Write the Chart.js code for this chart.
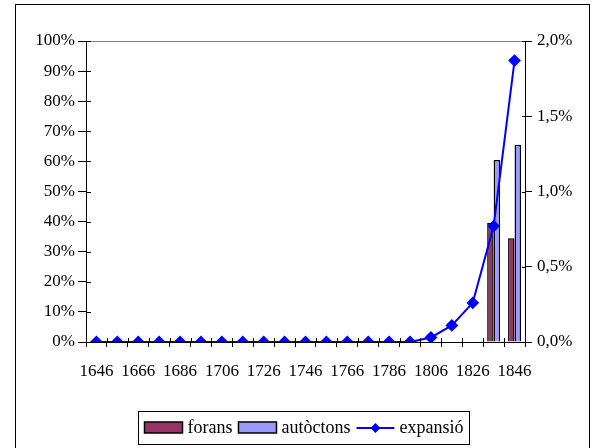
<!DOCTYPE html>
<html>
<head>
<meta charset="utf-8">
<script src="https://cdn.jsdelivr.net/npm/chart.js@4/dist/chart.umd.min.js"></script>
<style>
  html, body { margin: 0; padding: 0; background: #fff; }
  canvas { display: block; }
</style>
</head>
<body>
<canvas id="chart" width="597" height="448"></canvas>
<script>
  // Data
  const years = ["1646", "1656", "1666", "1676", "1686", "1696", "1706", "1716", "1726", "1736", "1746",
                 "1756", "1766", "1776", "1786", "1796", "1806", "1816", "1826", "1836", "1846"];
  const forans = [null, null, null, null, null, null, null, null, null, null, null,
                  null, null, null, null, null, null, null, null, 39.5, 34.5];
  const autoctons = [null, null, null, null, null, null, null, null, null, null, null,
                     null, null, null, null, null, null, null, null, 60.5, 65.5];
  const expansio = [0, 0, 0, 0, 0, 0, 0, 0, 0, 0, 0,
                    0, 0, 0, 0, 0, 0.03, 0.11, 0.26, 0.77, 1.87];

  const FONT = '"Liberation Serif", "Times New Roman", serif';
  const tickFont = { family: FONT, size: 17 };

  // frame, gray top border, crossing ticks and the boxed legend
  const decor = {
    id: "decor",
    beforeDraw(chart) {
      const ctx = chart.ctx;
      ctx.save();
      ctx.fillStyle = "#fff";
      ctx.fillRect(0, 0, chart.width, chart.height);
      ctx.strokeStyle = "#000";
      ctx.lineWidth = 1;
      ctx.strokeRect(15.5, 4.5, 574, 470);
      ctx.restore();
    },
    afterDraw(chart) {
      const ctx = chart.ctx;
      const a = chart.chartArea;
      const x = chart.scales.x, y = chart.scales.y, y1 = chart.scales.y1;
      ctx.save();
      ctx.strokeStyle = "#808080";
      ctx.lineWidth = 1;
      ctx.beginPath();
      ctx.moveTo(a.left, Math.round(a.top) + 0.5);
      ctx.lineTo(a.right, Math.round(a.top) + 0.5);
      ctx.stroke();

      // inner halves of the tick marks
      ctx.strokeStyle = "#000";
      ctx.beginPath();
      y.ticks.forEach((t) => {
        const py = Math.round(y.getPixelForValue(t.value)) + 0.5;
        ctx.moveTo(a.left, py); ctx.lineTo(a.left + 5, py);
      });
      y1.ticks.forEach((t) => {
        const py = Math.round(y1.getPixelForValue(t.value)) + 0.5;
        ctx.moveTo(a.right, py); ctx.lineTo(a.right - 3, py);
      });
      for (let i = 0; i <= years.length; i++) {
        const px = Math.round(x.getPixelForValue(i - 0.5)) + 0.5;
        ctx.moveTo(px, a.bottom); ctx.lineTo(px, a.bottom - 4);
      }
      ctx.stroke();

      // legend
      const items = [
        { text: "forans", kind: "bar", color: "#993366" },
        { text: "autòctons", kind: "bar", color: "#9999FF" },
        { text: "expansió", kind: "line", color: "#0000FF" }
      ];
      ctx.font = "18px " + FONT;
      const sw = 38, gap = 5, sep = 6;
      let total = 0;
      items.forEach((it, i) => {
        it.w = ctx.measureText(it.text).width;
        total += sw + gap + it.w + (i < items.length - 1 ? sep : 0);
      });
      const cx = 303.5, cy = 428;
      const boxL = Math.round(cx - total / 2 - 6) + 0.5;
      const boxW = Math.round(total + 12);
      ctx.fillStyle = "#fff";
      ctx.fillRect(boxL, 411.5, boxW, 33);
      ctx.strokeStyle = "#000";
      ctx.strokeRect(boxL, 411.5, boxW, 33);
      let lx = boxL + 6;
      ctx.textBaseline = "middle";
      items.forEach((it) => {
        if (it.kind === "bar") {
          ctx.fillStyle = it.color;
          ctx.fillRect(lx, cy - 6, sw, 11);
          ctx.lineWidth = 1.5;
          ctx.strokeStyle = "#000";
          ctx.strokeRect(lx, cy - 6, sw, 11);
        } else {
          ctx.strokeStyle = it.color;
          ctx.lineWidth = 2;
          ctx.beginPath();
          ctx.moveTo(lx, cy); ctx.lineTo(lx + sw, cy);
          ctx.stroke();
          const mx = lx + sw / 2;
          ctx.fillStyle = it.color;
          ctx.beginPath();
          ctx.moveTo(mx - 5, cy); ctx.lineTo(mx, cy - 5);
          ctx.lineTo(mx + 5, cy); ctx.lineTo(mx, cy + 5);
          ctx.closePath();
          ctx.fill();
        }
        lx += sw + gap;
        ctx.fillStyle = "#000";
        ctx.fillText(it.text, lx, cy);
        lx += it.w + sep;
      });
      ctx.restore();
    }
  };

  new Chart(document.getElementById("chart"), {
    type: "bar",
    data: {
      labels: years,
      datasets: [
        {
          type: "line", label: "expansió", data: expansio, yAxisID: "y1", order: 0,
          borderColor: "#0000FF", backgroundColor: "#0000FF", borderWidth: 2,
          pointStyle: "rectRot", pointRadius: 5, tension: 0, fill: false
        },
        {
          label: "forans", data: forans, yAxisID: "y", order: 1,
          backgroundColor: "#993366", borderColor: "#000", borderWidth: 1.5,
          categoryPercentage: 0.62, barPercentage: 1
        },
        {
          label: "autòctons", data: autoctons, yAxisID: "y", order: 1,
          backgroundColor: "#9999FF", borderColor: "#000", borderWidth: 1.5,
          categoryPercentage: 0.62, barPercentage: 1
        }
      ]
    },
    options: {
      responsive: false,
      animation: false,
      devicePixelRatio: 1,
      layout: { padding: { top: 41, left: 0, right: 0, bottom: 0 } },
      plugins: { legend: { display: false }, tooltip: { enabled: false } },
      scales: {
        x: {
          grid: { drawOnChartArea: false, drawTicks: true, tickLength: 5, color: "#000", offset: true },
          border: { display: true, color: "#000", width: 1 },
          ticks: {
            autoSkip: false, maxRotation: 0, minRotation: 0, padding: 14,
            color: "#000", font: tickFont,
            callback: (v, i) => (i % 2 === 0 ? years[i] : "")
          },
          afterFit: (s) => { s.height = 106; }
        },
        y: {
          position: "left", min: 0, max: 100,
          grid: { drawOnChartArea: false, drawTicks: true, tickLength: 8, color: "#000" },
          border: { display: true, color: "#000", width: 1 },
          ticks: { stepSize: 10, padding: 3, color: "#000", font: tickFont, callback: (v) => v + "%" },
          afterFit: (s) => { s.width = 86; }
        },
        y1: {
          position: "right", min: 0, max: 2,
          grid: { drawOnChartArea: false, drawTicks: true, tickLength: 7, color: "#000" },
          border: { display: true, color: "#000", width: 1 },
          ticks: {
            stepSize: 0.5, padding: 5, color: "#000", font: tickFont,
            callback: (v) => v.toFixed(1).replace(".", ",") + "%"
          },
          afterFit: (s) => { s.width = 72; }
        }
      }
    },
    plugins: [decor]
  });
</script>
</body>
</html>
